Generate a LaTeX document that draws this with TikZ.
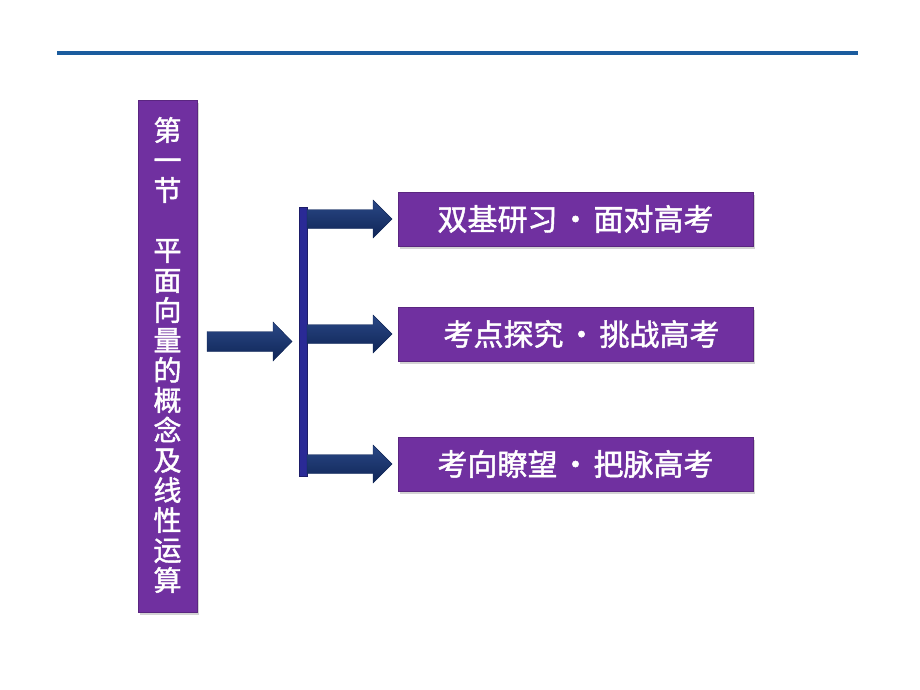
\documentclass[tikz,border=0pt]{standalone}
\usepackage{fontspec}
\setmainfont{Noto Sans CJK SC}
\newfontfamily\cjkb[FakeBold=1.5]{Noto Sans CJK SC}
\usetikzlibrary{shadows}
\definecolor{boxpurple}{HTML}{7030A0}
\definecolor{navytop}{HTML}{2A4886}
\definecolor{navybot}{HTML}{0F2556}
\definecolor{barblue}{HTML}{2A2A96}
\definecolor{lineblue}{HTML}{1B5C9E}
\begin{document}
\begin{tikzpicture}[x=1pt,y=-1pt,
  purplebox/.style={fill=boxpurple, draw=boxpurple!80!black, line width=0.6pt, inner sep=0pt,
    drop shadow={shadow xshift=2pt, shadow yshift=-3pt, opacity=0.35}},
  topicbox/.style={purplebox, minimum width=355pt, minimum height=54pt, text=white,
    font=\cjkb\fontsize{30}{32}\selectfont},
  titletext/.style={text=white, align=center, inner sep=0pt, font=\cjkb\fontsize{28}{30}\selectfont},
  blockarrow/.style={top color=navytop, bottom color=navybot, draw=navybot, line width=0.4pt}
]
\useasboundingbox (0,0) rectangle (920,690);
% top rule
\draw[lineblue, line width=4pt] (57,53) -- (858,53);
% title box
\node[purplebox, minimum width=59pt, minimum height=512pt] (title) at (167.5,356) {};
\node[titletext] (titlelabel) at (167.5,355) {第\\一\\节\\[30pt]平\\面\\向\\量\\的\\概\\念\\及\\线\\性\\运\\算};
% topic boxes
\node[topicbox] (t1) at (575.5,219) {双基研习\hspace{3pt}・\hspace{3pt}面对高考};
\node[topicbox] (t2) at (575.5,334) {\hspace{12pt}考点探究\hspace{3pt}・\hspace{3pt}挑战高考};
\node[topicbox] (t3) at (575.5,464) {考向瞭望\hspace{3pt}・\hspace{3pt}把脉高考\hspace{10pt}};
% left arrow
\path[blockarrow] (207,331.5) -- (273,331.5) -- (273,322) -- (292,341.5) -- (273,361) -- (273,351.5) -- (207,351.5) -- cycle;
% vertical bar
\path[fill=barblue, draw=barblue!70!black, line width=0.4pt] (299,207) rectangle (307,476);
% branch arrows
\path[blockarrow] (307,209.5) -- (373,209.5) -- (373,200) -- (392,219) -- (373,238) -- (373,228.5) -- (307,228.5) -- cycle;
\path[blockarrow] (307,324.5) -- (373,324.5) -- (373,315) -- (392,334) -- (373,353) -- (373,343.5) -- (307,343.5) -- cycle;
\path[blockarrow] (307,454.5) -- (373,454.5) -- (373,445) -- (392,464) -- (373,483) -- (373,473.5) -- (307,473.5) -- cycle;
\end{tikzpicture}
\end{document}
